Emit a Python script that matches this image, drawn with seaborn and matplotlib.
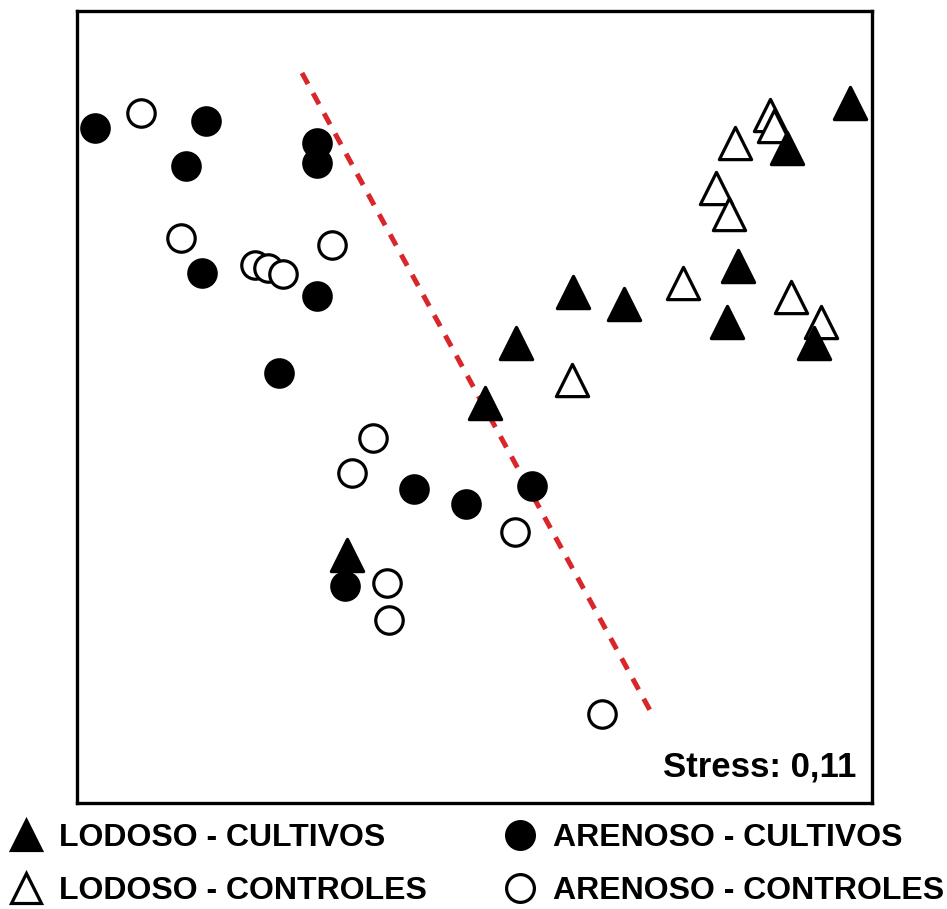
import pandas as pd
import seaborn as sns
import matplotlib.pyplot as plt
from matplotlib.lines import Line2D

# --------------------- NMDS scores --------------------- #
lodoso_cult_x = [773, 710, 661, 650, 737, 496, 547, 439, 408, 270]
lodoso_cult_y = [700, 655, 537, 481, 460, 511, 499, 460, 400, 248]

lodoso_ctrl_x = [693, 697, 658, 639, 652, 606, 714, 744, 495]
lodoso_ctrl_y = [688, 677, 660, 615, 589, 520, 506, 481, 423]

arenoso_cult_x = [18, 129, 109, 240, 240, 125, 240, 202, 337, 389, 455, 268]
arenoso_cult_y = [675, 682, 637, 660, 640, 530, 507, 430, 314, 299, 317, 217]

arenoso_ctrl_x = [64, 104, 255, 178, 191, 206, 296, 275, 438, 310, 312, 525]
arenoso_ctrl_y = [690, 565, 558, 538, 535, 529, 365, 330, 271, 220, 183, 89]

# dividing line between groups
split_x = [225, 575]
split_y = [730, 89]

labels = ['LODOSO - CULTIVOS', 'LODOSO - CONTROLES',
          'ARENOSO - CULTIVOS', 'ARENOSO - CONTROLES']
stress_label = 'Stress: 0,11'

sns.set_style('white')
plt.rcParams['font.family'] = ['Liberation Sans', 'DejaVu Sans']
plt.rcParams['text.color'] = 'black'

fig = plt.figure(figsize=(9.47, 9.09), dpi=100)
ax = fig.add_axes([77 / 947, 106 / 909, 795 / 947, 792 / 909])

lw = 2.3
tri_s, dot_s = 540, 390
# open markers first, filled ones sit on top
sns.scatterplot(x=lodoso_ctrl_x, y=lodoso_ctrl_y, marker='^', s=tri_s,
                facecolor='white', edgecolor='black', linewidth=lw, ax=ax, zorder=3)
sns.scatterplot(x=arenoso_ctrl_x, y=arenoso_ctrl_y, marker='o', s=dot_s,
                facecolor='white', edgecolor='black', linewidth=lw, ax=ax, zorder=3)
sns.scatterplot(x=lodoso_cult_x, y=lodoso_cult_y, marker='^', s=tri_s,
                color='black', edgecolor='black', linewidth=lw, ax=ax, zorder=4)
sns.scatterplot(x=arenoso_cult_x, y=arenoso_cult_y, marker='o', s=dot_s,
                color='black', edgecolor='black', linewidth=lw, ax=ax, zorder=4)

sns.lineplot(x=split_x, y=split_y, color='#d9262a', linewidth=3.6,
             dashes=False, ax=ax, zorder=2, sort=False)
ax.lines[-1].set_dashes([2.5, 2.1])

ax.set_xlim(0, 795)
ax.set_ylim(0, 792)
ax.set_xticks([])
ax.set_yticks([])
for sp in ax.spines.values():
    sp.set_linewidth(2.4)
    sp.set_color('black')

ax.text(0.98, 0.025, stress_label, transform=ax.transAxes, ha='right',
        va='bottom', fontsize=25, fontweight='bold', color='black')

# legend below the frame
handles = [
    Line2D([], [], marker='^', ls='', ms=22, mfc='black', mec='black', mew=lw),
    Line2D([], [], marker='^', ls='', ms=22, mfc='white', mec='black', mew=lw),
    Line2D([], [], marker='o', ls='', ms=20, mfc='black', mec='black', mew=lw),
    Line2D([], [], marker='o', ls='', ms=20, mfc='white', mec='black', mew=lw),
]
leg = fig.legend(handles, labels, ncol=2, loc='upper left',
                 bbox_to_anchor=(0.0, 92 / 909), frameon=False,
                 prop={'weight': 'bold', 'size': 23}, handlelength=1.2,
                 handletextpad=0.45, columnspacing=2.3, labelspacing=0.72,
                 borderaxespad=0.0, borderpad=0.2)
for t in leg.get_texts():
    t.set_color('black')

fig.savefig('out.png', dpi=100)
